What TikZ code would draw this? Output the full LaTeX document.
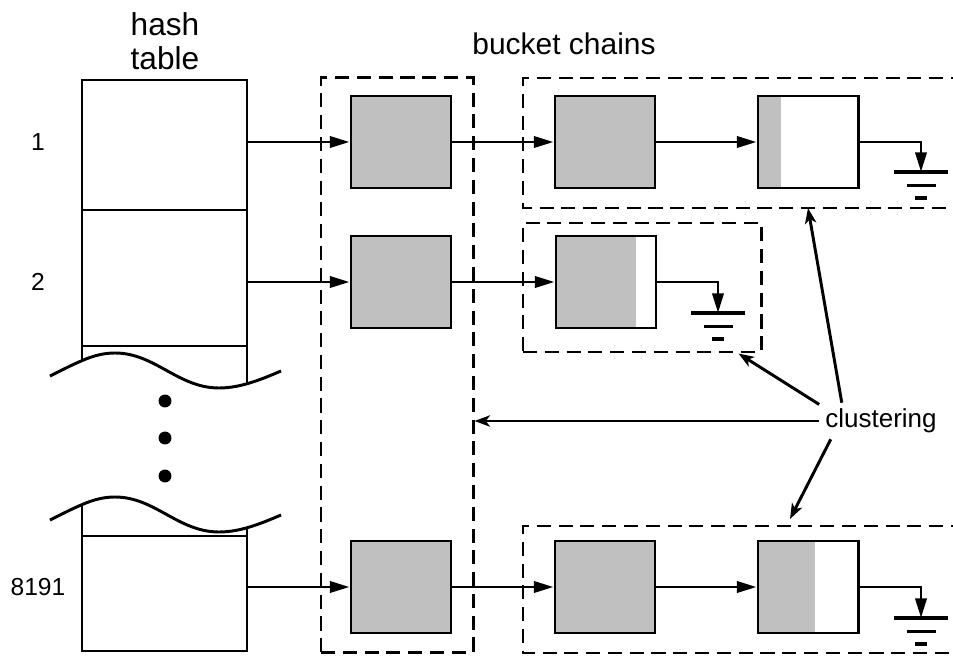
\documentclass[tikz,border=0pt]{standalone}
\usepackage{fontspec}
\setmainfont{Liberation Sans}
\usetikzlibrary{calc,arrows.meta}
\definecolor{cellgray}{RGB}{192,192,192}

\begin{document}
\begin{tikzpicture}[x=0.025cm,y=-0.025cm,line width=2.1pt,
        cell/.style={draw,fill=cellgray,minimum width=2.5cm,minimum height=2.3cm,inner sep=0pt},
        partcell/.style={cell,fill=white,path picture={\fill[cellgray] (path picture bounding box.south west) rectangle ++(#1,-100);}},
        grp/.style={draw,dash pattern=on 10pt off 5.5pt},
        chain/.style={-{Triangle[length=14pt,width=8pt]}},
        tip/.style={-{Stealth[length=11pt,width=8pt,inset=3pt]}},
        lbl/.style={font=\fontsize{17.5}{21}\selectfont},
        ground/.pic={\draw[line width=2.8pt] (-27,0) -- (27,0) (-14.5,13.5) -- (14.5,13.5) (-6,26) -- (6,26);}]
        \useasboundingbox (0,0) rectangle (953,656);
        % hash table
        \draw (82,361) |- (247,80) -- (247,383) (82,210) -- (247,210) (82,346) -- (247,346);
        \draw (82,505) |- (247,651) -- (247,527) (82,536) -- (247,536);
        \foreach \dy in {0,144}
          \draw[shift={(0,\dy)}] (50,376) .. controls (80,361) and (95,353) .. (115,353) .. controls (155,353) and (178,388) .. (219,388) .. controls (240,388) and (260,380) .. (281,371);
        \foreach \y in {401,438,476}
          \fill (165,\y) circle[radius=4.6pt];
        \node[font=\fontsize{22.5}{24}\selectfont,align=center] (ht) at (165,41) {hash\\table};
        \node[font=\fontsize{21.3}{25}\selectfont] (bc) at (564,44) {bucket chains};
        \node[lbl] (l1) at (38,142) {1};
        \node[lbl] (l2) at (38,282) {2};
        \node[lbl] (l3) at (38,587) {8191};
        \coordinate (h1) at (247,142);
        \coordinate (h2) at (247,282);
        \coordinate (h3) at (247,587);
        % clusters
        \node[grp,minimum width=3.8cm,minimum height=14.35cm] (col) at (397,365) {};
        \node[grp,minimum width=5.95cm,minimum height=3.225cm] (grp2) at (642,287.5) {};
        \draw[grp] (965,78) -| (523,208) -- (965,208);
        \draw[grp] (965,526) -| (523,653) -- (965,653);
        \coordinate (t1) at (808,208);
        \coordinate (t3) at (790,519);
        % buckets
        \node[cell] (b11) at (401,142) {};
        \node[cell] (b12) at (605,142) {};
        \node[partcell=23] (b13) at (808,142) {};
        \node[cell] (b21) at (401,282) {};
        \node[partcell=80] (b22) at (606,282) {};
        \node[cell] (b31) at (401,587) {};
        \node[cell] (b32) at (605,587) {};
        \node[partcell=57] (b33) at (808,587) {};
        \coordinate (g1) at (921,172);
        \coordinate (g2) at (718,313);
        \coordinate (g3) at (921,618);
        \foreach \g in {g1,g2,g3}
          \pic at (\g) {ground};
        \draw[chain] (h1) -- (b11);
        \draw[chain] (h2) -- (b21);
        \draw[chain] (h3) -- (b31);
        \draw[chain] (b11) -- (b12);
        \draw[chain] (b12) -- (b13);
        \draw[chain] (b21) -- (b22);
        \draw[chain] (b31) -- (b32);
        \draw[chain] (b32) -- (b33);
        \draw[chain] (b13.east) -| (g1);
        \draw[chain] (b22.east) -| (g2);
        \draw[chain] (b33.east) -| (g3);
        % clustering
        \node[font=\fontsize{18.5}{22}\selectfont] (clu) at (881,421) {clustering};
        \draw[tip] (clu.west) -- (clu.west -| col.east);
        \draw[tip] (clu.165) -- ($(grp2.south east)+(-24,0)$);
        \draw[tip] (clu.155) -- (t1);
        \draw[tip] (clu.200) -- (t3);
      \end{tikzpicture}
\end{document}
